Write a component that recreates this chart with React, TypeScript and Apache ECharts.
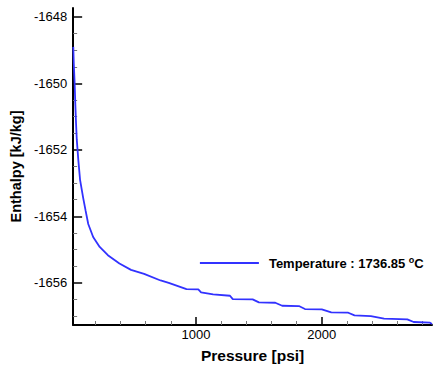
import React, { useEffect, useRef } from "react";
import * as echarts from "echarts";

const pressure = [24, 28, 35, 40, 46, 52, 58, 64, 78, 103, 122, 143, 182, 234, 299, 391, 483, 587, 718, 783, 924, 1018, 1040, 1136, 1270, 1292, 1450, 1500, 1630, 1685, 1818, 1866, 2000, 2075, 2210, 2260, 2390, 2495, 2680, 2730, 2860, 2876];
const enthalpy = [-1648.9, -1649.4, -1650.0, -1650.6, -1651.2, -1651.7, -1652.0, -1652.3, -1652.9, -1653.45, -1653.83, -1654.23, -1654.62, -1654.92, -1655.17, -1655.42, -1655.61, -1655.73, -1655.93, -1656.0, -1656.19, -1656.2, -1656.29, -1656.35, -1656.39, -1656.49, -1656.5, -1656.59, -1656.6, -1656.69, -1656.7, -1656.79, -1656.8, -1656.89, -1656.9, -1656.98, -1657.0, -1657.08, -1657.1, -1657.18, -1657.2, -1657.24];

const xMajor = [1000, 2000];
const xMinor = [200, 400, 600, 800, 1200, 1400, 1600, 1800, 2200, 2400, 2600, 2800];
const yMajor = [-1656, -1654, -1652, -1650, -1648];
const yMinor = [-1657, -1656.5, -1655.5, -1655, -1654.5, -1653.5, -1653, -1652.5, -1651.5, -1651, -1650.5, -1649.5, -1649, -1648.5];

const seriesName = "Temperature : 1736.85 °C";

export default function App() {
  const ref = useRef<HTMLDivElement>(null);
  useEffect(() => {
    if (!ref.current) return;
    const chart = echarts.init(ref.current, null, { renderer: "svg" });
    const xMin = 23, xMax = 2876, yMin = -1657.27, yMax = -1647.73;
    const font = "'Liberation Sans', Arial, sans-serif";
    const blue = "#3232ff";
    chart.setOption({
      animation: false,
      backgroundColor: "#ffffff",
      grid: { left: 68, right: 1, top: 8, bottom: 40 },
      legend: {
        left: 199,
        top: 255,
        padding: 0,
        itemWidth: 59,
        itemHeight: 14,
        data: [seriesName],
        itemStyle: { opacity: 0 },
        lineStyle: { color: blue, width: 1.8 },
        formatter: () => "Temperature : 1736.85 {sup|o}C",
        textStyle: {
          fontFamily: font,
          fontSize: 13,
          fontWeight: "bold",
          color: "#000",
          padding: [0, 0, 0, 5],
          rich: {
            sup: { fontSize: 9, fontWeight: "bold", fontFamily: font, color: "#000", verticalAlign: "top", padding: [0, 0, 7, 0] },
          },
        },
      },
      xAxis: [
        {
          type: "value",
          min: xMin,
          max: xMax,
          name: "Pressure [psi]",
          nameLocation: "middle",
          nameGap: 22,
          nameTextStyle: { fontFamily: font, fontSize: 15.5, fontWeight: "bold", color: "#000" },
          axisLine: { show: true, onZero: false, lineStyle: { color: "#000", width: 2 } },
          axisTick: { show: true, inside: true, length: 8, customValues: xMajor, lineStyle: { color: "#000", width: 1.5 } },
          axisLabel: { customValues: xMajor, formatter: (v: number) => String(v), fontFamily: font, fontSize: 13, color: "#000", margin: 3 },
          splitLine: { show: false },
        },
        {
          type: "value",
          min: xMin,
          max: xMax,
          position: "bottom",
          axisLine: { show: false },
          axisTick: { show: true, inside: true, length: 4, customValues: xMinor, lineStyle: { color: "#777", width: 1 } },
          axisLabel: { show: false },
          splitLine: { show: false },
        },
      ],
      yAxis: [
        {
          type: "value",
          min: yMin,
          max: yMax,
          name: "Enthalpy [kJ/kg]",
          nameLocation: "middle",
          nameGap: 45,
          nameTextStyle: { fontFamily: font, fontSize: 14.5, fontWeight: "bold", color: "#000" },
          axisLine: { show: true, onZero: false, lineStyle: { color: "#000", width: 2 } },
          axisTick: { show: true, inside: true, length: 9, customValues: yMajor, lineStyle: { color: "#000", width: 1.5 } },
          axisLabel: { customValues: yMajor, formatter: (v: number) => String(v), fontFamily: font, fontSize: 13, color: "#000", margin: 6 },
          splitLine: { show: false },
        },
        {
          type: "value",
          min: yMin,
          max: yMax,
          position: "left",
          axisLine: { show: false },
          axisTick: { show: true, inside: true, length: 4, customValues: yMinor, lineStyle: { color: "#777", width: 1 } },
          axisLabel: { show: false },
          splitLine: { show: false },
        },
      ],
      series: [
        {
          name: seriesName,
          type: "line",
          xAxisIndex: 0,
          yAxisIndex: 0,
          showSymbol: false,
          symbol: "none",
          color: blue,
          lineStyle: { color: blue, width: 1.8 },
          data: pressure.map((p, i) => [p, enthalpy[i]]),
        },
      ],
    });
    return () => chart.dispose();
  }, []);
  return <div ref={ref} style={{ position: "fixed", left: 0, top: 0, width: 433, height: 368 }} />;
}
